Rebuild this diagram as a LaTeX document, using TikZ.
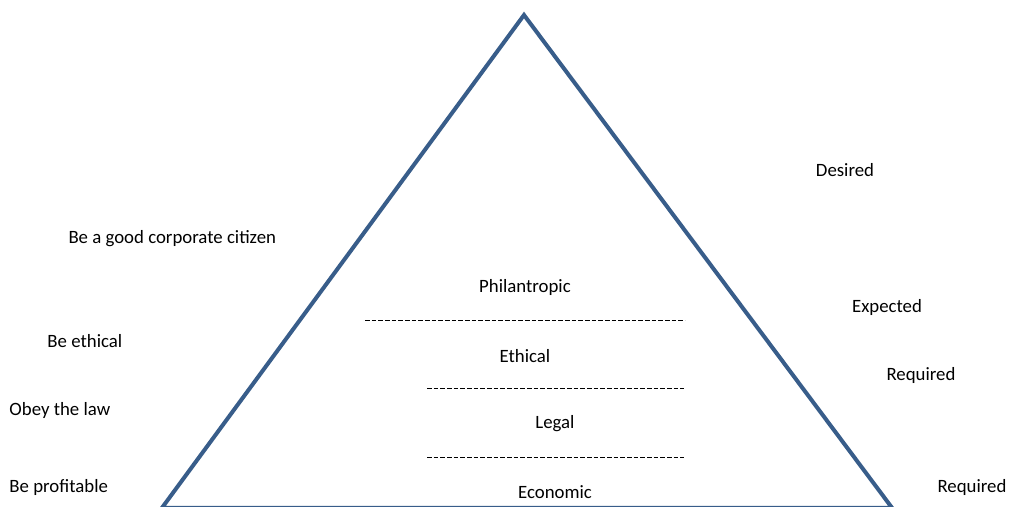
\documentclass[tikz,border=0pt]{standalone}
\usepackage{fontspec}
\setmainfont{Carlito}
\definecolor{pyramidblue}{RGB}{56,93,138}
\tikzset{every picture/.style={line width=0.75pt}}
\tikzset{
	label text/.style={font=\fontsize{14.1}{16}\selectfont, inner sep=0pt, yshift=-1.5pt},
	divider/.style={line width=0.7pt, dash pattern=on 3.6pt off 1.4pt}
}

\begin{document}
\begin{tikzpicture}[x=0.75pt,y=0.75pt,yscale=-1,xscale=1]
	\useasboundingbox (0,0) rectangle (1011,507);

	%Shape: Triangle [id:pyramid]
	\draw [color=pyramidblue, line width=3pt, line join=miter] (524,15) -- (892,507.8) -- (162,507.8) -- cycle ;

	%Straight Lines [id:divider1]
	\coordinate (d1a) at (365,320); \coordinate (d1b) at (685,320);
	\draw [divider] (d1a) -- (d1b) ;
	%Straight Lines [id:divider2]
	\coordinate (d2a) at (427,388); \coordinate (d2b) at (684,388);
	\draw [divider] (d2a) -- (d2b) ;
	%Straight Lines [id:divider3]
	\coordinate (d3a) at (427,457); \coordinate (d3b) at (684,457);
	\draw [divider] (d3a) -- (d3b) ;

	% Text Node
	\node [label text] (philantropic) at (525,285) {Philantropic};
	% Text Node
	\node [label text] (ethical) at (525,354) {Ethical};
	% Text Node
	\node [label text] (legal) at (555,422) {Legal};
	% Text Node
	\node [label text] (economic) at (555,490) {Economic};

	% Text Node
	\node [label text, anchor=west] (citizen) at (68,237) {Be a good corporate citizen};
	% Text Node
	\node [label text, anchor=west] (beethical) at (47,339) {Be ethical};
	% Text Node
	\node [label text, anchor=west] (obeylaw) at (9,408) {Obey the law};
	% Text Node
	\node [label text, anchor=west] (profitable) at (9,485) {Be profitable};

	% Text Node
	\node [label text] (desired) at (845,168) {Desired};
	% Text Node
	\node [label text] (expected) at (887,305) {Expected};
	% Text Node
	\node [label text] (required) at (921,373) {Required};
	% Text Node
	\node [label text] (requiredb) at (972,485) {Required};

\end{tikzpicture}
\end{document}
